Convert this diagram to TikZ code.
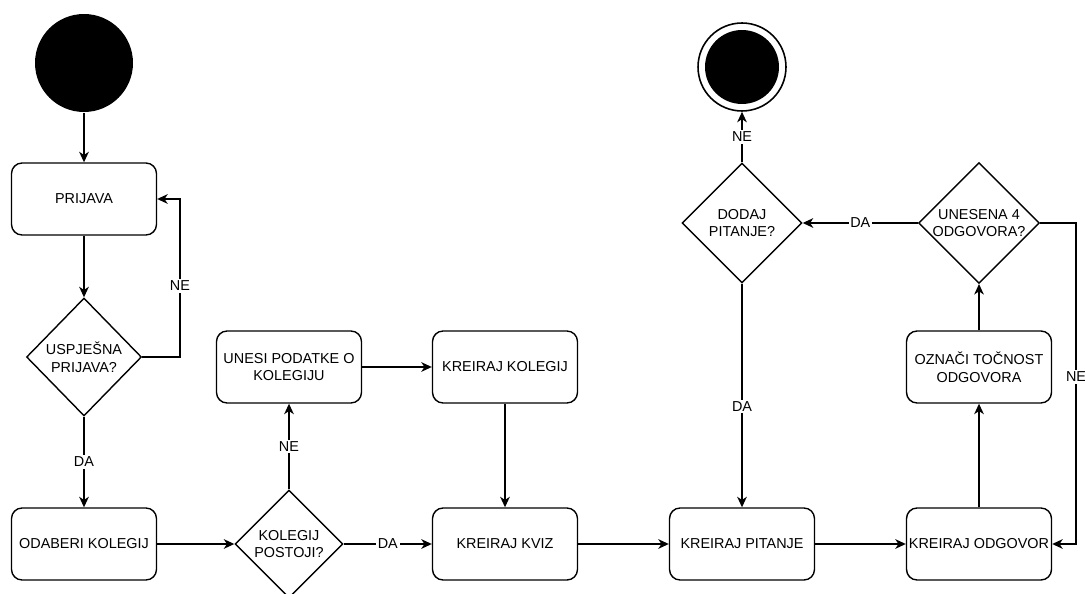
\documentclass[tikz,border=0pt]{standalone}
\usepackage{fontspec}
\setmainfont{Liberation Sans}
\usetikzlibrary{shapes.geometric}
\usetikzlibrary{arrows.meta}

\begin{document}
\begin{tikzpicture}[x=0.02cm,y=-0.02cm,line width=0.8pt,
    font=\fontsize{8.2}{10}\selectfont,
    korak/.style={draw,rounded corners=6pt,align=center,inner sep=1pt,%
      minimum width=2.9cm,minimum height=1.44cm},
    odluka/.style={draw,diamond,aspect=1,align=center,inner sep=0pt,%
      minimum width=2.36cm,minimum height=2.36cm},
    tok/.style={-{Stealth[length=6pt,width=5.5pt,inset=1.8pt]}},
    oznaka/.style={fill=white,inner sep=1pt}]

  % ovo je granica slike
  \useasboundingbox (0,0) rectangle (1085,594);

  % pocetak i kraj
  \node[circle,fill=black,minimum size=1.96cm] (pocetak) at (84,63){};
  \node[circle,draw,line width=0.9pt,minimum size=1.76cm] (kraj) at (742,67){};
  \node[circle,fill=black,minimum size=1.48cm] (krajunutra) at (kraj){};

  % lijevi stupac
  \node[korak] (prijava) at (84,199){PRIJAVA};
  \node[odluka,minimum width=2.3cm] (uspjesna) at (84,357){USPJEŠNA\\PRIJAVA?};
  \node[korak] (odaberi) at (84,544){ODABERI KOLEGIJ};

  % kolegij
  \node[odluka,minimum width=2.16cm,minimum height=2.16cm] (postoji) at (289,544){%
    KOLEGIJ\\POSTOJI?};
  \node[korak] (unesi) at (289,367){UNESI PODATKE O\\KOLEGIJU};
  \node[korak] (kolegij) at (505,367){KREIRAJ KOLEGIJ};
  \node[korak] (kviz) at (505,544){KREIRAJ KVIZ};

  % pitanja i odgovori
  \node[korak] (pitanje) at (742,544){KREIRAJ PITANJE};
  \node[odluka,minimum width=2.4cm,minimum height=2.4cm] (dodaj) at (742,223){%
    DODAJ\\PITANJE?};
  \node[korak] (odgovor) at (979,544){KREIRAJ ODGOVOR};
  \node[korak] (tocnost) at (979,367){OZNAČI TOČNOST\\ODGOVORA};
  \node[odluka,minimum width=2.4cm,minimum height=2.4cm] (unesena) at (979,223){%
    UNESENA 4\\ODGOVORA?};

  \coordinate (petljaprijava) at (180,286);
  \coordinate (petljaodgovor) at (1076,377);

  % veze
  \draw[tok] (pocetak) -- (prijava);
  \draw[tok] (prijava) -- (uspjesna);
  \draw[tok] (uspjesna.east) -| (petljaprijava) node[oznaka]{NE} |- (prijava.east);
  \draw[tok] (uspjesna) -- node[oznaka]{DA} (odaberi);
  \draw[tok] (odaberi) -- (postoji);
  \draw[tok] (postoji) -- node[oznaka]{NE} (unesi);
  \draw[tok] (postoji) -- node[oznaka]{DA} (kviz);
  \draw[tok] (unesi) -- (kolegij);
  \draw[tok] (kolegij) -- (kviz);
  \draw[tok] (kviz) -- (pitanje);
  \draw[tok] (pitanje) -- (odgovor);
  \draw[tok] (odgovor) -- (tocnost);
  \draw[tok] (tocnost) -- (unesena);
  \draw[tok] (unesena) -- node[oznaka]{DA} (dodaj);
  \draw[tok] (unesena.east) -| (petljaodgovor) node[oznaka]{NE} |- (odgovor.east);
  \draw[tok] (dodaj) -- node[oznaka,pos=0.55]{DA} (pitanje);
  \draw[tok] (dodaj) -- node[oznaka]{NE} (kraj);
\end{tikzpicture}
\end{document}
